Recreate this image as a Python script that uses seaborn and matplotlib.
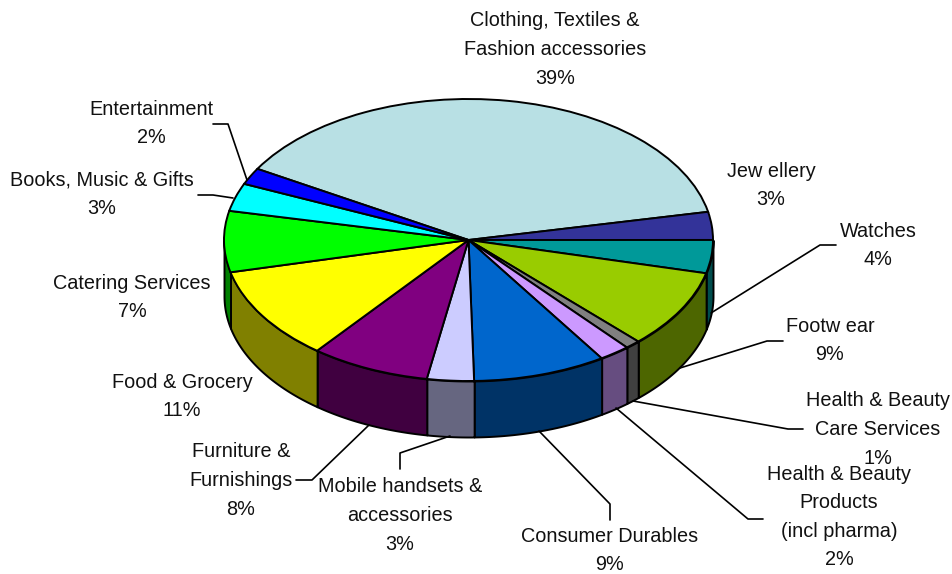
import matplotlib
matplotlib.use("Agg")
import matplotlib.pyplot as plt
import numpy as np
import seaborn as sns

sns.set_theme(style="white")
plt.rcParams["font.family"] = ["Liberation Sans", "DejaVu Sans"]

W, H = 952, 574

names = [
    "Clothing, Textiles &\nFashion accessories",
    "Jew ellery",
    "Watches",
    "Footw ear",
    "Health & Beauty\nCare Services",
    "Health & Beauty\nProducts\n(incl pharma)",
    "Consumer Durables",
    "Mobile handsets &\naccessories",
    "Furniture &\nFurnishings",
    "Food & Grocery",
    "Catering Services",
    "Books, Music & Gifts",
    "Entertainment",
]
# printed percentages, and the slice sizes
printed = [39, 3, 4, 9, 1, 2, 9, 3, 8, 11, 7, 3, 2]
shares = [38.4, 3.2, 3.8, 9.0, 1.0, 2.05, 8.8, 3.1, 7.9, 10.7, 7.0, 3.2, 1.9]
colors = [
    "#B8E0E4", "#333399", "#009999", "#99CC00", "#808080", "#CC99FF", "#0066CC",
    "#CCCCFF", "#800080", "#FFFF00", "#00FF00", "#00FFFF", "#0000FF",
]

# label centres in pixels, from the top left corner
label_x = [555, 771, 878, 830, 878, 839, 610, 400, 241, 182, 132, 102, 151]
label_y = [49.5, 185.5, 245.5, 340.5, 429.5, 517, 550.5, 515.5, 480.5, 396.5, 297.5, 194.5, 123.5]

leaders = [
    [(711, 313), (820, 245), (836, 245)],
    [(680, 368), (767, 341), (783, 341)],
    [(633, 401), (788, 429), (803, 429)],
    [(616, 408), (748, 519), (763, 519)],
    [(539, 431), (610, 504), (610, 520)],
    [(450, 436), (400, 453), (400, 469)],
    [(369, 425), (312, 480), (296, 480)],
    [(233, 198), (213, 195), (198, 195)],
    [(247, 180), (228, 124), (213, 124)],
]

cx, cy, rx, ry = 468.5, 240, 244.5, 141
depth = 56 / ry

fig = plt.figure(figsize=(W / 100, H / 100), dpi=100, facecolor="white")

overlay = fig.add_axes([0, 0, 1, 1], zorder=2)
overlay.set_xlim(0, W)
overlay.set_ylim(H, 0)
overlay.axis("off")

# pie axes: radius 1 maps to rx / ry pixels, extra room below for the wall
top_px = cy - ry
bottom_px = cy + ry + depth * ry
ax = fig.add_axes([(cx - rx) / W, 1 - bottom_px / H, 2 * rx / W, (bottom_px - top_px) / H], zorder=1)
wedges, _ = ax.pie(
    shares,
    colors=sns.color_palette(colors),
    startangle=149.7,
    counterclock=False,
    wedgeprops={"edgecolor": "black", "linewidth": 1.4, "clip_on": False},
)
ax.set_aspect("auto")
ax.set_xlim(-1, 1)
ax.set_ylim(-1 - depth, 1)
ax.axis("off")

# side wall: lower half of each slice, pushed down and darkened
for wedge, color in zip(wedges, colors):
    t = np.radians(np.linspace(wedge.theta1, wedge.theta2, 200))
    t = t[np.sin(t) <= 0]
    if len(t) < 2:
        continue
    x, y = np.cos(t), np.sin(t)
    shade = tuple(c * 0.5 for c in matplotlib.colors.to_rgb(color))
    ax.fill_between(x, y, y - depth, facecolor=shade, edgecolor="black",
                    linewidth=1.4, zorder=0.5, clip_on=False)

for name, value, lx, ly in zip(names, printed, label_x, label_y):
    overlay.text(lx, ly, f"{name}\n{value}%", ha="center", va="center", fontsize=14.35,
                 color="#111111", linespacing=1.64)

for pts in leaders:
    xs, ys = zip(*pts)
    overlay.plot(xs, ys, color="black", linewidth=1.2)

fig.savefig("out.png", dpi=100, facecolor="white")
